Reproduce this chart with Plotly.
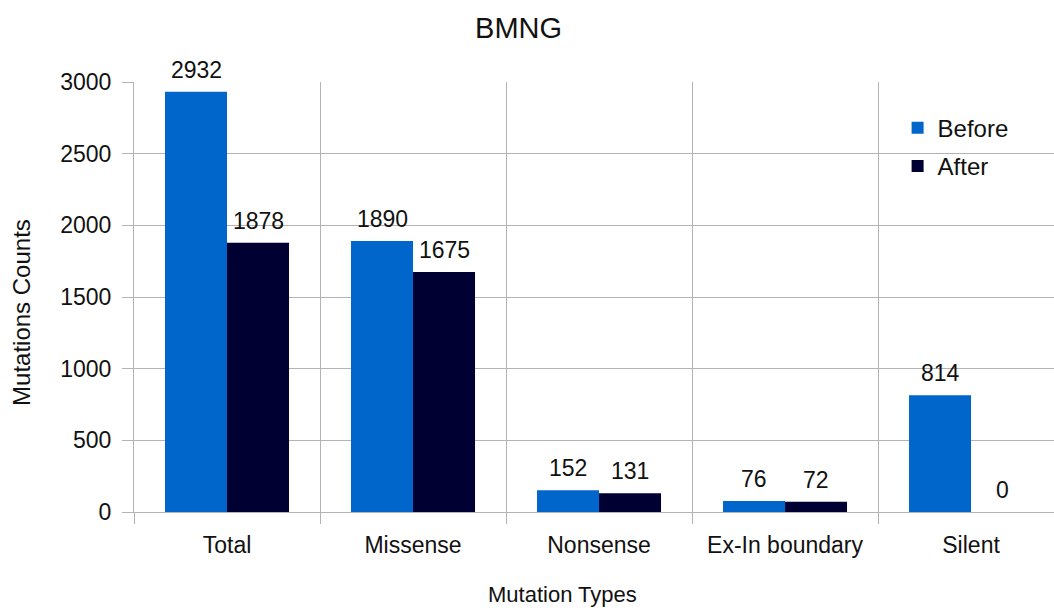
import plotly.graph_objects as go

categories = ["Total", "Missense", "Nonsense", "Ex-In boundary", "Silent"]
before = [2932, 1890, 152, 76, 814]
after = [1878, 1675, 131, 72, 0]
y_ticks = [0, 500, 1000, 1500, 2000, 2500, 3000]

FONT = "Liberation Sans, Arial, sans-serif"
GRID = "#b3b3b3"
TXT = "#111"

fig = go.Figure()
fig.add_trace(go.Bar(
    x=categories, y=before, name="Before", marker_color="#0066cc",
    marker_line_width=0, legendgroup="a",
))
fig.add_trace(go.Bar(
    x=categories, y=after, name="After", marker_color="#000033",
    marker_line_width=0, legendgroup="b",
))

# value labels above bars
annotations = []
for series, shift in ((before, -31), (after, 31)):
    for cat, val in zip(categories, series):
        annotations.append(dict(
            x=cat, y=val, xref="x", yref="y", text=str(val), showarrow=False,
            xanchor="center", yanchor="bottom", xshift=shift, yshift=7,
            font=dict(size=23, color=TXT, family=FONT),
        ))
# axis titles
annotations.append(dict(
    text="Mutation Types", xref="paper", yref="paper", x=0.466, y=-0.193,
    xanchor="center", yanchor="middle", showarrow=False,
    font=dict(size=22, color=TXT, family=FONT),
))
annotations.append(dict(
    text="Mutations Counts", xref="paper", yref="paper", x=-0.1217, y=0.463,
    xanchor="center", yanchor="middle", showarrow=False, textangle=-90,
    font=dict(size=24, color=TXT, family=FONT),
))

fig.update_layout(
    width=1054, height=612,
    margin=dict(l=134, r=0, t=82, b=100),
    paper_bgcolor="white", plot_bgcolor="white",
    font=dict(family=FONT, size=22, color=TXT),
    title=dict(text="BMNG", x=0.492, xanchor="center", y=0.955, yanchor="middle",
               font=dict(size=29, color=TXT, family=FONT)),
    barmode="group", bargap=1/3, bargroupgap=0,
    showlegend=True,
    legend=dict(x=0.83, y=0.945, xanchor="left", yanchor="top",
                bgcolor="rgba(0,0,0,0)", tracegroupgap=4,
                traceorder="grouped",
                font=dict(size=24, color=TXT, family=FONT),
                itemwidth=30),
    annotations=annotations,
)
fig.update_xaxes(
    range=[-0.5, 4.446],
    tickson="boundaries", ticks="outside", ticklen=11, tickcolor=GRID,
    showgrid=True, gridcolor=GRID, gridwidth=1,
    showline=True, linecolor=GRID, linewidth=1,
    tickfont=dict(size=23, color=TXT, family=FONT),
    ticklabelstandoff=12,
)
fig.update_yaxes(
    range=[0, 3000], tickvals=y_ticks,
    ticks="outside", ticklen=11, tickcolor=GRID,
    showgrid=True, gridcolor=GRID, gridwidth=1,
    showline=True, linecolor=GRID, linewidth=1, zeroline=False,
    tickfont=dict(size=23, color=TXT, family=FONT),
    ticklabelstandoff=6,
)

fig.write_html("out.html")
